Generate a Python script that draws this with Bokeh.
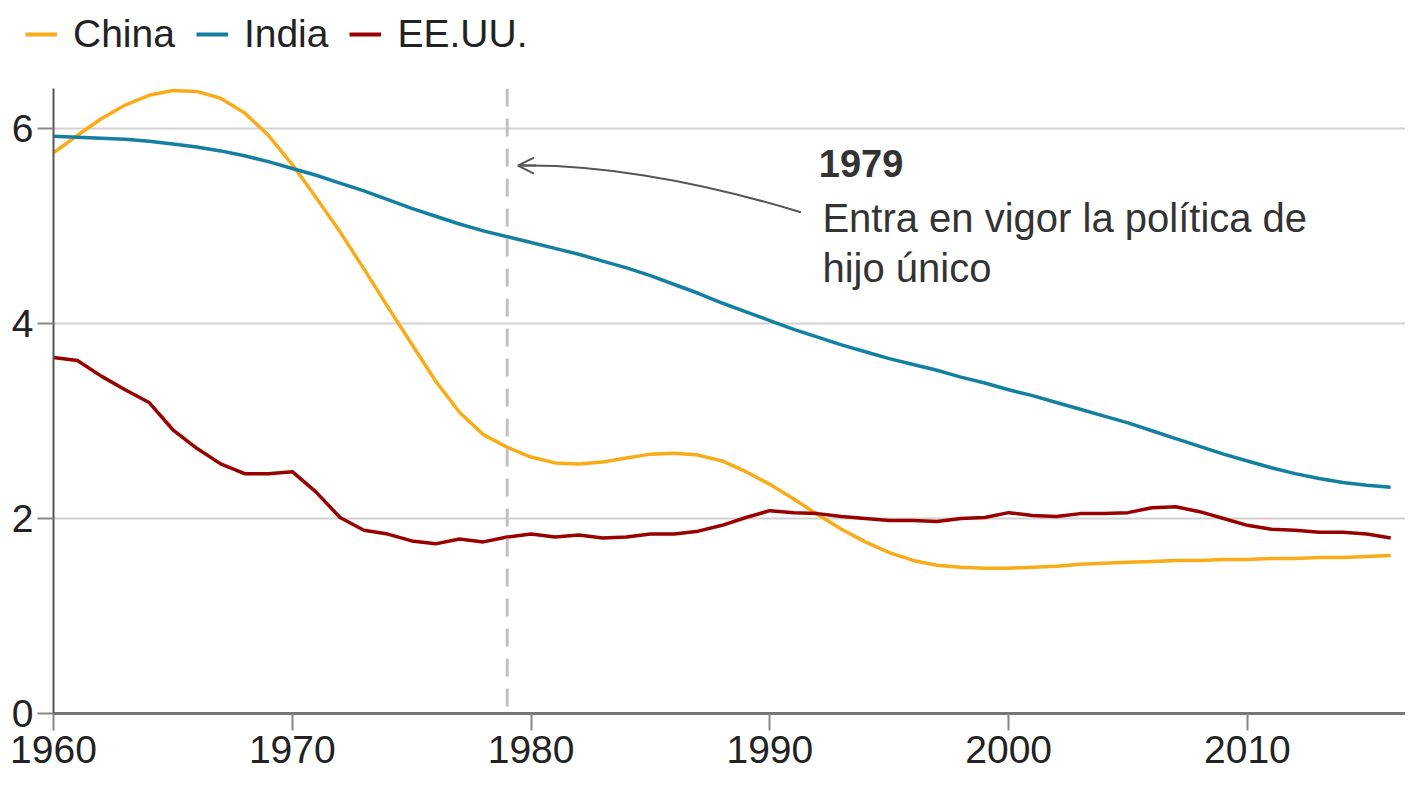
from bokeh.plotting import figure
from bokeh.models import Range1d, FixedTicker, Span, Legend, LegendItem, Arrow, OpenHead, ColumnDataSource
from bokeh.core.properties import value
from bokeh.embed import file_html
from bokeh.resources import INLINE

years = list(range(1960, 2017))
china = [5.75, 5.93, 6.10, 6.24, 6.34, 6.39, 6.38, 6.31, 6.16, 5.93,
         5.63, 5.29, 4.94, 4.56, 4.17, 3.79, 3.41, 3.09, 2.86, 2.73,
         2.63, 2.57, 2.56, 2.58, 2.62, 2.66, 2.67, 2.65, 2.59, 2.48,
         2.35, 2.20, 2.04, 1.89, 1.76, 1.65, 1.57, 1.52, 1.50, 1.49,
         1.49, 1.50, 1.51, 1.53, 1.54, 1.55, 1.56, 1.57, 1.57, 1.58,
         1.58, 1.59, 1.59, 1.60, 1.60, 1.61, 1.62]
india = [5.92, 5.91, 5.90, 5.89, 5.87, 5.84, 5.81, 5.77, 5.72, 5.66,
         5.59, 5.52, 5.44, 5.36, 5.27, 5.18, 5.10, 5.02, 4.95, 4.89,
         4.83, 4.77, 4.71, 4.64, 4.57, 4.49, 4.40, 4.31, 4.21, 4.12,
         4.03, 3.94, 3.86, 3.78, 3.71, 3.64, 3.58, 3.52, 3.45, 3.39,
         3.32, 3.26, 3.19, 3.12, 3.05, 2.98, 2.90, 2.82, 2.74, 2.66,
         2.59, 2.52, 2.46, 2.41, 2.37, 2.34, 2.32]
usa = [3.65, 3.62, 3.46, 3.32, 3.19, 2.91, 2.72, 2.56, 2.46, 2.46,
       2.48, 2.27, 2.01, 1.88, 1.84, 1.77, 1.74, 1.79, 1.76, 1.81,
       1.84, 1.81, 1.83, 1.80, 1.81, 1.84, 1.84, 1.87, 1.93, 2.01,
       2.08, 2.06, 2.05, 2.02, 2.00, 1.98, 1.98, 1.97, 2.00, 2.01,
       2.06, 2.03, 2.02, 2.05, 2.05, 2.06, 2.11, 2.12, 2.07, 2.00,
       1.93, 1.89, 1.88, 1.86, 1.86, 1.84, 1.80]
series_names = ["China", "India", "EE.UU."]
x_ticks = [1960, 1970, 1980, 1990, 2000, 2010]
y_ticks = [0, 2, 4, 6]

event_year = 1979
ann_title = "1979"
ann_lines = ["Entra en vigor la política de", "hijo único"]

FONT = "Liberation Sans"
colors = ["#FAAB18", "#1380A1", "#990000"]
nan = float("nan")

# ---- legend strip on top ----
top = figure(width=1405, height=88, output_backend="svg", toolbar_location=None,
             x_range=Range1d(0, 1), y_range=Range1d(0, 1),
             min_border_left=0, min_border_right=0, min_border_top=0, min_border_bottom=0,
             x_axis_type=None, y_axis_type=None)
top.outline_line_color = None
top.grid.visible = False
leg_r = [top.line([nan], [nan], line_color=c, line_width=4) for c in colors]
legend = Legend(items=[LegendItem(label=n, renderers=[r]) for n, r in zip(series_names, leg_r)],
                orientation="horizontal", location=(25, 32),
                label_text_font=FONT, label_text_font_size="39px", label_text_color="#222222",
                glyph_width=32, glyph_height=30, label_standoff=16, spacing=21,
                padding=0, margin=0, border_line_color=None, background_fill_alpha=0)
top.add_layout(legend, "center")

# ---- main chart ----
p = figure(width=1405, height=695, output_backend="svg", toolbar_location=None,
           x_range=Range1d(1960, 2016.62), y_range=Range1d(0, 6.41),
           min_border_left=53, min_border_right=0, min_border_top=0, min_border_bottom=70)
p.outline_line_color = None
p.background_fill_color = "white"
p.border_fill_color = "white"

p.xgrid.grid_line_color = None
p.ygrid.grid_line_color = "#d2d2d2"
p.ygrid.grid_line_width = 2
p.ygrid.ticker = FixedTicker(ticks=y_ticks)

p.xaxis.ticker = FixedTicker(ticks=x_ticks)
p.yaxis.ticker = FixedTicker(ticks=y_ticks)
for ax in (p.xaxis[0], p.yaxis[0]):
    ax.major_label_text_font = FONT
    ax.major_label_text_font_size = "39px"
    ax.major_label_text_color = "#222222"
    ax.minor_tick_line_color = None
    ax.major_tick_in = 0
    ax.major_tick_line_width = 2
    ax.major_tick_line_color = "#888888"
p.xaxis.axis_line_color = "#777777"
p.xaxis.axis_line_width = 3
p.xaxis.major_tick_out = 17
p.xaxis.major_label_standoff = 5
p.yaxis.axis_line_color = "#555555"
p.yaxis.axis_line_width = 2
p.yaxis.major_tick_out = 16
p.yaxis.major_label_standoff = 4

p.add_layout(Span(location=event_year, dimension="height", line_color="#c0c0c0",
                  line_width=3, line_dash="18 12"))

for name, ys, c in zip(series_names, [china, india, usa], colors):
    p.line(years, ys, line_color=c, line_width=3.5, line_join="round")

# annotation arrow (curved)
p.bezier(x0=[1991.3], y0=[5.14], x1=[1979.6], y1=[5.62], cx0=[1986.5], cy0=[5.50],
         cx1=[1982.5], cy1=[5.63], line_color="#555555", line_width=2)
p.add_layout(Arrow(end=OpenHead(size=16, line_color="#555555", line_width=2),
                   x_start=1980.2, y_start=5.62, x_end=1979.45, y_end=5.62,
                   line_color="#555555", line_width=2))

src_t = ColumnDataSource(dict(x=[1992.05], y=[5.64], t=[ann_title]))
p.text("x", "y", "t", source=src_t, text_font=value(FONT), text_font_size="38px",
       text_font_style="bold", text_color="#333333", text_baseline="middle")
src_l = ColumnDataSource(dict(x=[1992.2, 1992.2], y=[5.08, 4.57], t=ann_lines))
p.text("x", "y", "t", source=src_l, text_font=value(FONT), text_font_size="40px",
       text_color="#333333", text_baseline="middle")

open("out.html", "w").write(file_html([top, p], INLINE))
